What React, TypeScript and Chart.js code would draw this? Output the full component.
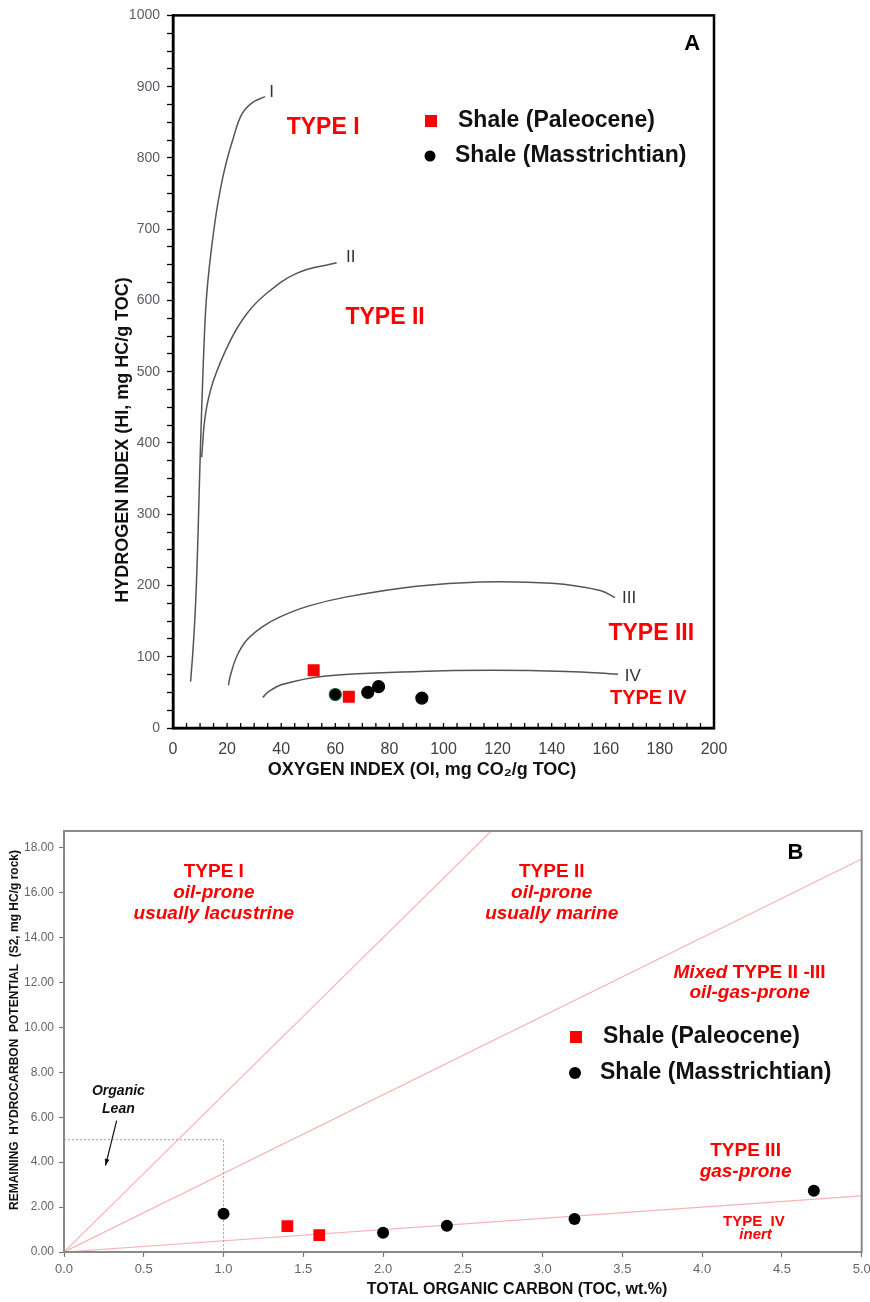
import React, { useEffect, useRef } from 'react';
import { Chart, registerables } from 'chart.js';

Chart.register(...registerables);

const FONT = '"Liberation Sans", Arial, Helvetica, sans-serif';

// ---------- Chart A: HI vs OI ----------
const paleoceneOI = [52, 65];
const paleoceneHI = [81, 44];
const masstrichtianOI = [60, 72, 76, 92];
const masstrichtianHI = [47, 50, 58, 42];

const curveI_OI = [6.5, 7.4, 8.3, 9.0, 9.6, 10.2, 10.9, 11.6, 12.3, 13.4, 14.9, 16.7, 19.2, 22.3, 25.4, 29.1, 34.0];
const curveI_HI = [65, 110, 170, 240, 320, 400, 480, 550, 600, 646, 693, 739, 786, 828, 861, 877, 886];
const curveII_OI = [10.6, 12.0, 14.9, 21.1, 27.0, 34.0, 45.7, 60.5];
const curveII_HI = [380, 440, 487, 543, 580, 608, 638, 653];
const curveIII_OI = [20.5, 21.1, 23.5, 27.2, 33.0, 39.6, 50.0, 64.2, 90.0, 113.5, 140.0, 157.9, 163.4];
const curveIII_HI = [60, 72, 100, 123, 142, 156, 171, 184, 199, 205, 203, 193, 183];
const curveIV_OI = [33.2, 35.0, 40.3, 56.6, 90.8, 118.0, 145.4, 164.5];
const curveIV_HI = [43, 50, 61, 73, 79.4, 81, 79.4, 75.6];

// ---------- Chart B: S2 vs TOC ----------
const paleoceneTOC = [1.4, 1.6];
const paleoceneS2 = [1.15, 0.75];
const masstrichtianTOC = [1.0, 2.0, 2.4, 3.2, 4.7];
const masstrichtianS2 = [1.7, 0.86, 1.17, 1.47, 2.73];
const hiBoundaries = [700, 350, 50]; // HI = S2/TOC*100 boundary lines
const tocAxisMax = 5;
const organicLeanTOC = [0, 1, 1];
const organicLeanS2 = [5, 5, 0];
const arrowTOC = [0.33, 0.26];
const arrowS2 = [5.85, 3.85];

const legendLabels = ['Shale (Paleocene)', 'Shale (Masstrichtian)'];

const zip = (xs: number[], ys: number[]) => xs.map((x, i) => ({ x, y: ys[i] }));

type Seg = { text: string; font: string };
type Lbl = { x: number; y: number; segs: Seg[]; color: string };

function drawSegs(ctx: CanvasRenderingContext2D, px: number, py: number, segs: Seg[], color: string) {
  let total = 0;
  segs.forEach((s) => {
    ctx.font = s.font;
    total += ctx.measureText(s.text).width;
  });
  let cx = px - total / 2;
  ctx.fillStyle = color;
  ctx.textAlign = 'left';
  ctx.textBaseline = 'middle';
  segs.forEach((s) => {
    ctx.font = s.font;
    ctx.fillText(s.text, cx, py);
    cx += ctx.measureText(s.text).width;
  });
}

function textPlugin(labels: Lbl[]) {
  return {
    id: 'labels',
    afterDatasetsDraw(chart: any) {
      const ctx = chart.ctx as CanvasRenderingContext2D;
      const xs = chart.scales.x;
      const ys = chart.scales.y;
      ctx.save();
      labels.forEach((l) => {
        drawSegs(ctx, xs.getPixelForValue(l.x), ys.getPixelForValue(l.y), l.segs, l.color);
      });
      ctx.restore();
    },
  };
}

type LegendItem = { label: string; shape: 'rect' | 'circle'; color: string; mx: number; my: number; size: number; tx: number };

function legendPlugin(items: LegendItem[], font: string) {
  return {
    id: 'customLegend',
    afterDatasetsDraw(chart: any) {
      const ctx = chart.ctx as CanvasRenderingContext2D;
      ctx.save();
      items.forEach((it) => {
        ctx.fillStyle = it.color;
        if (it.shape === 'rect') {
          ctx.fillRect(it.mx - it.size / 2, it.my - it.size / 2, it.size, it.size);
        } else {
          ctx.beginPath();
          ctx.arc(it.mx, it.my, it.size / 2, 0, Math.PI * 2);
          ctx.fill();
        }
        ctx.fillStyle = '#111';
        ctx.font = font;
        ctx.textAlign = 'left';
        ctx.textBaseline = 'middle';
        ctx.fillText(it.label, it.tx, it.my);
      });
      ctx.restore();
    },
  };
}

function titlePlugin(titles: { text: string; x: number; y: number; font: string; rotate?: boolean }[]) {
  return {
    id: 'axisTitles',
    afterDraw(chart: any) {
      const ctx = chart.ctx as CanvasRenderingContext2D;
      ctx.save();
      titles.forEach((t) => {
        ctx.save();
        ctx.translate(t.x, t.y);
        if (t.rotate) ctx.rotate(-Math.PI / 2);
        ctx.font = t.font;
        ctx.fillStyle = '#111';
        ctx.textAlign = 'center';
        ctx.textBaseline = 'middle';
        ctx.fillText(t.text, 0, 0);
        ctx.restore();
      });
      ctx.restore();
    },
  };
}

function framePlugin(color: string, width: number, inwardXTicks: boolean) {
  return {
    id: 'frame',
    afterDraw(chart: any) {
      const ctx = chart.ctx as CanvasRenderingContext2D;
      const a = chart.chartArea;
      ctx.save();
      ctx.strokeStyle = color;
      ctx.lineWidth = width;
      ctx.strokeRect(a.left, a.top, a.right - a.left, a.bottom - a.top);
      if (inwardXTicks) {
        const xs = chart.scales.x;
        ctx.lineWidth = 1.3;
        ctx.beginPath();
        xs.ticks.forEach((t: any) => {
          const px = xs.getPixelForValue(t.value);
          ctx.moveTo(px, a.bottom);
          ctx.lineTo(px, a.bottom - 5);
        });
        ctx.stroke();
      }
      ctx.restore();
    },
  };
}

function arrowPlugin() {
  return {
    id: 'arrowHead',
    afterDatasetsDraw(chart: any) {
      const ctx = chart.ctx as CanvasRenderingContext2D;
      const xs = chart.scales.x;
      const ys = chart.scales.y;
      const x0 = xs.getPixelForValue(arrowTOC[0]);
      const y0 = ys.getPixelForValue(arrowS2[0]);
      const x1 = xs.getPixelForValue(arrowTOC[1]);
      const y1 = ys.getPixelForValue(arrowS2[1]);
      const ang = Math.atan2(y1 - y0, x1 - x0);
      const len = 7;
      ctx.save();
      ctx.fillStyle = '#111';
      ctx.beginPath();
      ctx.moveTo(x1, y1);
      ctx.lineTo(x1 - len * Math.cos(ang - 0.35), y1 - len * Math.sin(ang - 0.35));
      ctx.lineTo(x1 - len * Math.cos(ang + 0.35), y1 - len * Math.sin(ang + 0.35));
      ctx.closePath();
      ctx.fill();
      ctx.restore();
    },
  };
}

const curveStyle = {
  type: 'line' as const,
  borderColor: '#555555',
  borderWidth: 1.5,
  pointRadius: 0,
  fill: false,
  tension: 0.4,
};

export default function App() {
  const refA = useRef<HTMLCanvasElement>(null);
  const refB = useRef<HTMLCanvasElement>(null);

  useEffect(() => {
    const bold = (s: number) => `bold ${s}px ${FONT}`;
    const boldIt = (s: number) => `italic bold ${s}px ${FONT}`;
    const norm = (s: number) => `${s}px ${FONT}`;

    const labelsA: Lbl[] = [
      { x: 36.5, y: 892, segs: [{ text: 'I', font: norm(17) }], color: '#333' },
      { x: 65.7, y: 661, segs: [{ text: 'II', font: norm(17) }], color: '#333' },
      { x: 168.6, y: 182, segs: [{ text: 'III', font: norm(17) }], color: '#333' },
      { x: 170, y: 72, segs: [{ text: 'IV', font: norm(17) }], color: '#333' },
      { x: 55.5, y: 842, segs: [{ text: 'TYPE I', font: bold(23) }], color: '#ff0000' },
      { x: 78.4, y: 576, segs: [{ text: 'TYPE II', font: bold(23) }], color: '#ff0000' },
      { x: 176.8, y: 132.6, segs: [{ text: 'TYPE III', font: bold(23) }], color: '#ff0000' },
      { x: 175.7, y: 41.6, segs: [{ text: 'TYPE IV', font: bold(20) }], color: '#ff0000' },
      { x: 191.9, y: 960, segs: [{ text: 'A', font: bold(22) }], color: '#000' },
    ];

    const chartA = new Chart(refA.current as HTMLCanvasElement, {
      type: 'scatter',
      data: {
        datasets: [
          {
            label: legendLabels[0],
            data: zip(paleoceneOI, paleoceneHI),
            pointStyle: 'rect',
            pointRadius: 8.5,
            backgroundColor: '#ff0000',
            borderColor: '#ff0000',
            borderWidth: 0,
          },
          {
            label: legendLabels[1],
            data: zip(masstrichtianOI, masstrichtianHI),
            pointStyle: 'circle',
            pointRadius: 6,
            backgroundColor: '#000000',
            borderColor: ['#0d5e3a', '#000', '#000', '#000'],
            borderWidth: 1.2,
          },
          { ...curveStyle, label: 'I', data: zip(curveI_OI, curveI_HI) },
          { ...curveStyle, label: 'II', data: zip(curveII_OI, curveII_HI) },
          { ...curveStyle, label: 'III', data: zip(curveIII_OI, curveIII_HI) },
          { ...curveStyle, label: 'IV', data: zip(curveIV_OI, curveIV_HI) },
        ] as any,
      },
      options: {
        animation: false,
        responsive: false,
        maintainAspectRatio: false,
        layout: { padding: { left: 0, right: 156, top: 14, bottom: 0 } },
        plugins: { legend: { display: false }, tooltip: { enabled: false } },
        scales: {
          x: {
            type: 'linear',
            min: 0,
            max: 200,
            ticks: {
              stepSize: 5,
              autoSkip: false,
              maxRotation: 0,
              callback: (v: any) => (Number(v) % 20 === 0 ? String(v) : ''),
              font: { family: FONT, size: 16 },
              color: '#404040',
              padding: 12,
            },
            grid: { drawOnChartArea: false, drawTicks: false },
            border: { color: '#000', width: 2.5 },
            afterFit: (s: any) => {
              s.height = 72;
            },
          },
          y: {
            type: 'linear',
            min: 0,
            max: 1000,
            ticks: {
              stepSize: 25,
              autoSkip: false,
              callback: (v: any) => (Number(v) % 100 === 0 ? String(v) : ''),
              font: { family: FONT, size: 14 },
              color: '#5b5b66',
              padding: 7,
            },
            grid: { drawOnChartArea: false, tickLength: 6, tickColor: '#000', tickWidth: 1.3 },
            border: { color: '#000', width: 2.5 },
            afterFit: (s: any) => {
              s.width = 173;
            },
          },
        },
      } as any,
      plugins: [
        textPlugin(labelsA),
        legendPlugin(
          [
            { label: legendLabels[0], shape: 'rect', color: '#ff0000', mx: 431, my: 121, size: 12, tx: 458 },
            { label: legendLabels[1], shape: 'circle', color: '#000', mx: 430, my: 156, size: 11, tx: 455 },
          ],
          bold(23)
        ),
        titlePlugin([
          { text: 'OXYGEN INDEX (OI, mg CO\u2082/g TOC)', x: 422, y: 770, font: bold(18) },
          { text: 'HYDROGEN INDEX (HI, mg HC/g TOC)', x: 123, y: 440, font: bold(18), rotate: true },
        ]),
        framePlugin('#000', 2.5, true),
      ] as any,
    });

    const labelsB: Lbl[] = [
      { x: 0.939, y: 16.93, segs: [{ text: 'TYPE I', font: bold(19) }], color: '#ff0000' },
      { x: 0.939, y: 16.0, segs: [{ text: 'oil-prone', font: boldIt(19) }], color: '#ff0000' },
      { x: 0.939, y: 15.06, segs: [{ text: 'usually lacustrine', font: boldIt(19) }], color: '#ff0000' },
      { x: 3.057, y: 16.93, segs: [{ text: 'TYPE II', font: bold(19) }], color: '#ff0000' },
      { x: 3.057, y: 16.0, segs: [{ text: 'oil-prone', font: boldIt(19) }], color: '#ff0000' },
      { x: 3.057, y: 15.06, segs: [{ text: 'usually marine', font: boldIt(19) }], color: '#ff0000' },
      {
        x: 4.297,
        y: 12.44,
        segs: [
          { text: 'Mixed ', font: boldIt(19) },
          { text: 'TYPE II -III', font: bold(19) },
        ],
        color: '#ff0000',
      },
      { x: 4.297, y: 11.55, segs: [{ text: 'oil-gas-prone', font: boldIt(19) }], color: '#ff0000' },
      { x: 4.272, y: 4.52, segs: [{ text: 'TYPE III', font: bold(19) }], color: '#ff0000' },
      { x: 4.272, y: 3.58, segs: [{ text: 'gas-prone', font: boldIt(19) }], color: '#ff0000' },
      { x: 4.324, y: 1.36, segs: [{ text: 'TYPE  IV', font: bold(15) }], color: '#ff0000' },
      { x: 4.335, y: 0.77, segs: [{ text: 'inert', font: boldIt(15) }], color: '#ff0000' },
      { x: 0.341, y: 7.17, segs: [{ text: 'Organic', font: boldIt(14) }], color: '#111' },
      { x: 0.341, y: 6.37, segs: [{ text: 'Lean', font: boldIt(14) }], color: '#111' },
      { x: 4.584, y: 17.78, segs: [{ text: 'B', font: bold(22) }], color: '#000' },
    ];

    const boundaryLines = hiBoundaries.map((hi) => ({
      type: 'line',
      label: `HI ${hi}`,
      data: [
        { x: 0, y: 0 },
        { x: tocAxisMax, y: (tocAxisMax * hi) / 100 },
      ],
      borderColor: '#f7b3b3',
      borderWidth: 1.2,
      pointRadius: 0,
      fill: false,
      tension: 0,
    }));

    const chartB = new Chart(refB.current as HTMLCanvasElement, {
      type: 'scatter',
      data: {
        datasets: [
          {
            label: legendLabels[0],
            data: zip(paleoceneTOC, paleoceneS2),
            pointStyle: 'rect',
            pointRadius: 8.3,
            backgroundColor: '#ff0000',
            borderColor: '#ff0000',
            borderWidth: 0,
          },
          {
            label: legendLabels[1],
            data: zip(masstrichtianTOC, masstrichtianS2),
            pointStyle: 'circle',
            pointRadius: 6,
            backgroundColor: '#000000',
            borderColor: '#000000',
            borderWidth: 0,
          },
          {
            type: 'line',
            label: 'arrow',
            data: zip(arrowTOC, arrowS2),
            borderColor: '#111',
            borderWidth: 1.2,
            pointRadius: 0,
            fill: false,
            tension: 0,
          },
          {
            type: 'line',
            label: 'Organic Lean',
            data: zip(organicLeanTOC, organicLeanS2),
            borderColor: '#a0a0a0',
            borderWidth: 1,
            borderDash: [2, 2],
            pointRadius: 0,
            fill: false,
            tension: 0,
          },
          ...boundaryLines,
        ] as any,
      },
      options: {
        animation: false,
        responsive: false,
        maintainAspectRatio: false,
        layout: { padding: { left: 0, right: 3, top: 31, bottom: 0 } },
        plugins: { legend: { display: false }, tooltip: { enabled: false } },
        scales: {
          x: {
            type: 'linear',
            min: 0,
            max: tocAxisMax,
            ticks: {
              stepSize: 0.5,
              autoSkip: false,
              maxRotation: 0,
              callback: (v: any) => Number(v).toFixed(1),
              font: { family: FONT, size: 13 },
              color: '#666',
              padding: 5,
            },
            grid: { drawOnChartArea: false, tickLength: 5, tickColor: '#777', tickWidth: 1.2 },
            border: { color: '#808080', width: 2 },
            afterFit: (s: any) => {
              s.height = 50;
              s.paddingLeft = 0;
              s.paddingRight = 0;
            },
          },
          y: {
            type: 'linear',
            min: 0,
            max: 18.75,
            afterBuildTicks: (axis: any) => {
              axis.ticks = axis.ticks.filter((t: any) => t.value <= 18.001);
            },
            ticks: {
              stepSize: 2,
              autoSkip: false,
              callback: (v: any) => Number(v).toFixed(2),
              font: { family: FONT, size: 12 },
              color: '#666',
              padding: 5,
            },
            grid: { drawOnChartArea: false, tickLength: 5, tickColor: '#777', tickWidth: 1.2 },
            border: { color: '#808080', width: 2 },
            afterFit: (s: any) => {
              s.width = 64;
            },
          },
        },
      } as any,
      plugins: [
        textPlugin(labelsB),
        arrowPlugin(),
        legendPlugin(
          [
            { label: legendLabels[0], shape: 'rect', color: '#ff0000', mx: 576, my: 237, size: 12, tx: 603 },
            { label: legendLabels[1], shape: 'circle', color: '#000', mx: 575, my: 273, size: 12, tx: 600 },
          ],
          bold(23)
        ),
        titlePlugin([
          { text: 'TOTAL ORGANIC CARBON (TOC, wt.%)', x: 517, y: 490, font: bold(16) },
          {
            text: 'REMAINING  HYDROCARBON  POTENTIAL  (S2, mg HC/g rock)',
            x: 15,
            y: 230,
            font: bold(12),
            rotate: true,
          },
        ]),
        framePlugin('#8a8a8a', 2, false),
      ] as any,
    });

    return () => {
      chartA.destroy();
      chartB.destroy();
    };
  }, []);

  return (
    <div style={{ position: 'absolute', left: 0, top: 0, width: 870, height: 1302, background: '#fff', overflow: 'hidden' }}>
      <canvas ref={refA} width={870} height={800} style={{ position: 'absolute', left: 0, top: 0, display: 'block' }} />
      <canvas ref={refB} width={870} height={502} style={{ position: 'absolute', left: 0, top: 800, display: 'block' }} />
    </div>
  );
}
